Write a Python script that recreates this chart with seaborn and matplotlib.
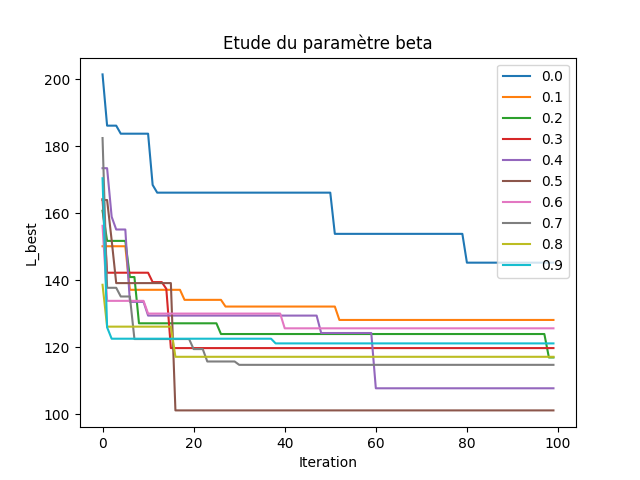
import numpy as np
import pandas as pd
import seaborn as sns
import matplotlib
matplotlib.use("Agg")
import matplotlib.pyplot as plt

# valeurs de beta testees
betas = ["0.0", "0.1", "0.2", "0.3", "0.4", "0.5", "0.6", "0.7", "0.8", "0.9"]
n_iter = 100

# L_best par palier : niveaux et nombre d'iterations sur chaque palier
levels_00 = [201.5, 186.2, 183.8, 168.5, 166.2, 153.9, 145.3]
counts_00 = [1, 3, 7, 1, 39, 29, 20]
levels_01 = [150.2, 137.2, 134.2, 132.2, 128.2]
counts_01 = [6, 12, 9, 25, 48]
levels_02 = [160.8, 151.8, 141.0, 127.2, 124.0, 117.0]
counts_02 = [1, 5, 2, 18, 72, 2]
levels_03 = [164.3, 142.3, 139.5, 137.5, 119.8]
counts_03 = [1, 10, 3, 1, 85]
levels_04 = [173.5, 159.0, 155.2, 133.6, 129.5, 124.3, 107.8]
counts_04 = [2, 1, 3, 4, 38, 12, 40]
levels_05 = [164.0, 152.0, 139.2, 101.2]
counts_05 = [2, 1, 13, 84]
levels_06 = [156.3, 133.9, 130.1, 125.7]
counts_06 = [1, 9, 30, 60]
levels_07 = [182.5, 137.8, 135.2, 122.5, 119.5, 115.8, 114.8]
counts_07 = [1, 3, 3, 13, 3, 7, 70]
levels_08 = [138.7, 126.2, 117.2]
counts_08 = [1, 15, 84]
levels_09 = [170.5, 126.0, 122.6, 121.2]
counts_09 = [1, 1, 36, 62]

all_levels = [levels_00, levels_01, levels_02, levels_03, levels_04,
              levels_05, levels_06, levels_07, levels_08, levels_09]
all_counts = [counts_00, counts_01, counts_02, counts_03, counts_04,
              counts_05, counts_06, counts_07, counts_08, counts_09]

iterations = np.arange(n_iter)

fig, ax = plt.subplots(figsize=(6.4, 4.8), dpi=100)
for beta, lev, cnt in zip(betas, all_levels, all_counts):
    l_best = np.repeat(lev, cnt)
    df = pd.DataFrame({"Iteration": iterations, "L_best": l_best})
    sns.lineplot(data=df, x="Iteration", y="L_best", label=beta, ax=ax)

ax.set_title("Etude du paramètre beta")
ax.set_xlabel("Iteration")
ax.set_ylabel("L_best")
ax.legend(loc="upper right")
plt.savefig("out.png", dpi=100)
